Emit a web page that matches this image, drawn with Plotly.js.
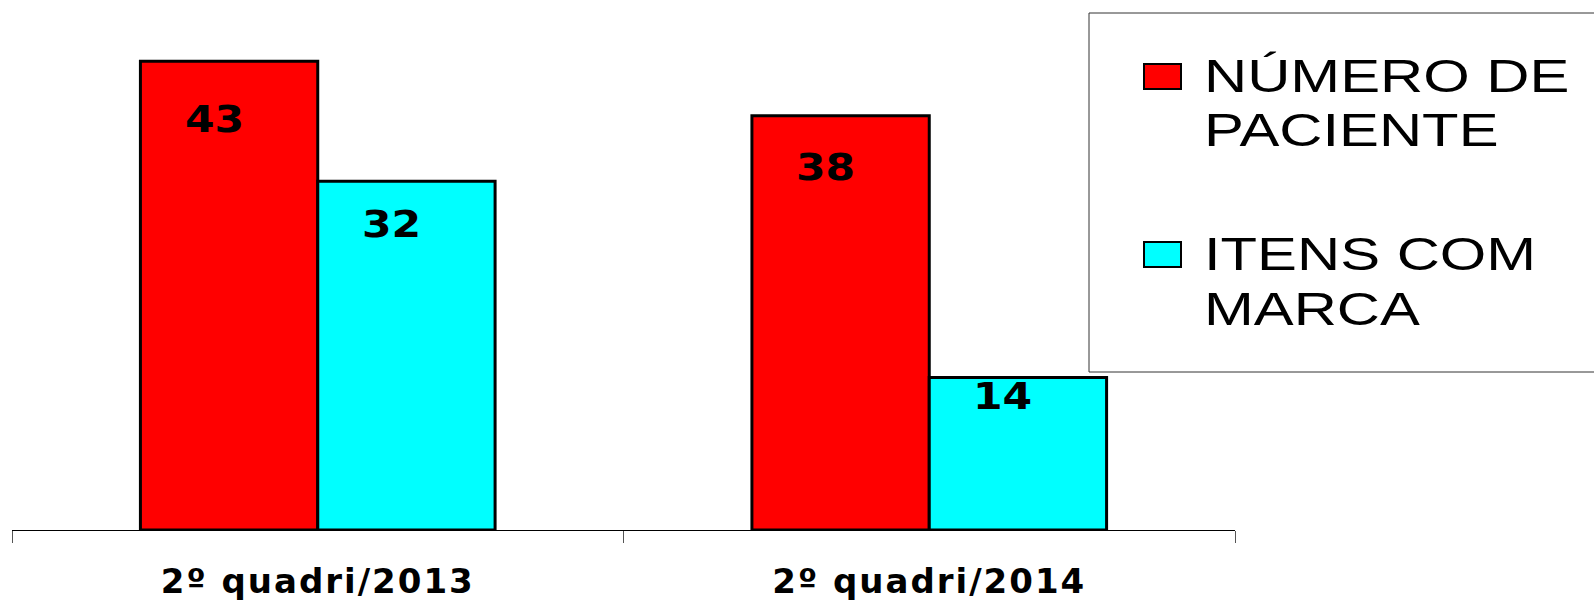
<!DOCTYPE html>
<html>
<head>
<meta charset="utf-8">
<script src="https://cdn.plot.ly/plotly-3.0.1.min.js"></script>
<style>
html,body{margin:0;padding:0;background:#ffffff;}
#chart{width:1594px;height:601px;}
text.annotation-text[style*="Liberation"]{transform:scaleX(1.3);transform-box:fill-box;transform-origin:0% 50%;}
text.annotation-text[style*="DejaVu"]{transform:scaleX(1.15);transform-box:fill-box;transform-origin:50% 50%;}
g.xtick text{letter-spacing:2px;}
</style>
</head>
<body>
<div id="chart"></div>
<script>
// ---- data ----
const categories = ['2º quadri/2013', '2º quadri/2014'];
const pacientes = [43, 38];
const itensMarca = [32, 14];
const seriesNames = ['NÚMERO DE PACIENTE', 'ITENS COM MARCA'];
const legendLines = [['NÚMERO DE', 'PACIENTE'], ['ITENS COM', 'MARCA']];
const seriesColors = ['#FF0000', '#00FFFF'];

// ---- layout constants ----
const W = 1594, H = 601;
const ML = 12, MR = 359, MT = 10, MB = 71;
const PW = W - ML - MR, PH = H - MT - MB;
const BARGAP = 0.42;
const YMAX = 47.7;
const px = p => (p - ML) / PW;
const py = p => (H - MB - p) / PH;

const seriesValues = [pacientes, itensMarca];

const traces = seriesValues.map((vals, s) => ({
  type: 'bar',
  name: seriesNames[s],
  x: categories,
  y: vals,
  marker: {color: seriesColors[s], line: {color: '#000000', width: 3}},
  hoverinfo: 'none'
}));

const annotations = [];
const shapes = [];

// legend box
shapes.push({type: 'rect', xref: 'paper', yref: 'paper',
  x0: px(1089), x1: px(1620), y0: py(13), y1: py(372),
  line: {color: '#333333', width: 1}, fillcolor: 'rgba(0,0,0,0)'});

const itemTop = [76, 254];
legendLines.forEach((lines, s) => {
  shapes.push({type: 'rect', xref: 'paper', yref: 'paper',
    x0: px(1144), x1: px(1181), y0: py(itemTop[s] - 12), y1: py(itemTop[s] + 13),
    line: {color: '#000000', width: 2}, fillcolor: seriesColors[s]});
  lines.forEach((ln, i) => {
    annotations.push({xref: 'paper', yref: 'paper', x: px(1202), y: py(itemTop[s] + i * 55),
      xanchor: 'left', yanchor: 'middle', align: 'left', showarrow: false, text: ln,
      font: {family: 'Liberation Sans', size: 46, color: '#000000'}});
  });
});

// data labels
const half = (1 - BARGAP) / 4;
seriesValues.forEach((vals, s) => {
  vals.forEach((v, i) => {
    annotations.push({xref: 'x', yref: 'y', x: i + (s === 0 ? -half : half), y: v * 0.875,
      xshift: -15, xanchor: 'center', yanchor: 'middle', showarrow: false, text: String(v),
      font: {family: 'DejaVu Sans', size: 37, color: '#000000', weight: 'bold'}});
  });
});

const layout = {
  width: W, height: H,
  margin: {l: ML, r: MR, t: MT, b: MB, pad: 0},
  paper_bgcolor: '#ffffff', plot_bgcolor: '#ffffff',
  barmode: 'group', bargap: BARGAP, bargroupgap: 0,
  showlegend: false,
  xaxis: {
    type: 'category', tickson: 'boundaries', ticks: 'outside', ticklen: 12, tickwidth: 1,
    tickcolor: '#555555', showline: true, linecolor: '#000000', linewidth: 1,
    showgrid: false, zeroline: false, ticklabelstandoff: 21,
    tickfont: {family: 'DejaVu Sans', size: 34, color: '#000000', weight: 'bold'}
  },
  yaxis: {range: [0, YMAX], visible: false, showgrid: false, zeroline: false},
  shapes: shapes,
  annotations: annotations,
  hovermode: false
};

Plotly.newPlot('chart', traces, layout, {staticPlot: true, displayModeBar: false});
</script>
</body>
</html>
